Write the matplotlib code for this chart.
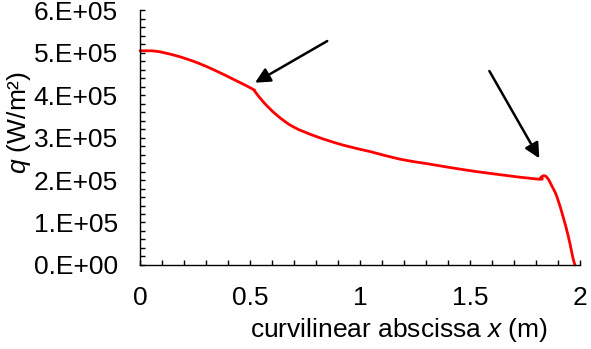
import matplotlib
matplotlib.use("Agg")
import matplotlib.pyplot as plt
import numpy as np
from matplotlib.path import Path
from matplotlib.patches import PathPatch
from matplotlib.ticker import MultipleLocator

plt.rcParams["font.family"] = ["Liberation Sans", "DejaVu Sans"]
plt.rcParams["mathtext.fontset"] = "custom"
plt.rcParams["mathtext.rm"] = "Liberation Sans"
plt.rcParams["mathtext.it"] = "Liberation Sans:italic"

# heat flux along the wall
x_m = [0.0, 0.073, 0.164, 0.255, 0.345, 0.436, 0.512, 0.523, 0.56, 0.621,
       0.697, 0.803, 0.924, 1.045, 1.182, 1.31, 1.462, 1.614, 1.81, 1.822,
       1.834, 1.846, 1.858, 1.87, 1.894, 1.924, 1.947, 1.96, 1.97, 1.977]
q_wm2 = [5.04e5, 5.03e5, 4.925e5, 4.77e5, 4.57e5, 4.34e5, 4.14e5, 4.08e5,
         3.84e5, 3.53e5, 3.25e5, 3.02e5, 2.82e5, 2.67e5, 2.49e5, 2.38e5,
         2.25e5, 2.14e5, 2.02e5, 2.06e5, 2.1e5, 2.08e5, 2.0e5, 1.88e5,
         1.62e5, 1.12e5, 0.67e5, 0.36e5, 0.12e5, 0.0]

x_ticks = [0, 0.5, 1, 1.5, 2]
x_labels = ["0", "0.5", "1", "1.5", "2"]
y_ticks = [0, 1e5, 2e5, 3e5, 4e5, 5e5, 6e5]
y_labels = ["0.E+00", "1.E+05", "2.E+05", "3.E+05", "4.E+05", "5.E+05", "6.E+05"]

# arrows: (tail, tip) in data units
arrows = [((0.851, 5.27e5), (0.523, 4.29e5)),
          ((1.588, 4.565e5), (1.815, 2.51e5))]


def smooth_path(xs, ys):
    # Excel style smoothed line: bezier segments through every point
    p = np.column_stack([xs, ys])
    verts = [p[0]]
    codes = [Path.MOVETO]
    n = len(p)
    for i in range(n - 1):
        p0 = p[i - 1] if i > 0 else p[i]
        p3 = p[i + 2] if i + 2 < n else p[i + 1]
        c1 = p[i] + (p[i + 1] - p0) / 6
        c2 = p[i + 1] - (p3 - p[i]) / 6
        verts += [c1, c2, p[i + 1]]
        codes += [Path.CURVE4] * 3
    return Path(verts, codes)


fig = plt.figure(figsize=(5.91, 3.49), dpi=100)
ax = fig.add_axes([0.2369, 0.2407, 0.7445, 0.7306])

ax.add_patch(PathPatch(smooth_path(x_m, q_wm2), facecolor="none",
                       edgecolor="#ff0000", lw=2, clip_on=False, capstyle="round"))

for tail, tip in arrows:
    ax.annotate("", xy=tip, xytext=tail,
                arrowprops=dict(arrowstyle="-|>,head_length=0.9,head_width=0.45",
                                color="black", lw=1.8, shrinkA=0, shrinkB=0))

ax.set_xlim(0, 2)
ax.set_ylim(0, 6e5)
ax.set_xticks(x_ticks)
ax.set_xticklabels(x_labels)
ax.set_yticks(y_ticks)
ax.set_yticklabels(y_labels)
ax.xaxis.set_minor_locator(MultipleLocator(0.1))
ax.yaxis.set_minor_locator(MultipleLocator(0.2e5))
ax.tick_params(which="both", direction="in", length=3.6, width=1, labelsize=19, pad=16)
ax.tick_params(axis="x", pad=15)

for s in ["top", "right"]:
    ax.spines[s].set_visible(False)
for s in ["left", "bottom"]:
    ax.spines[s].set_linewidth(1)

ax.set_xlabel("curvilinear abscissa $x$ (m)", fontsize=19)
ax.xaxis.set_label_coords(0.589, -0.2)
ax.set_ylabel("$q$ (W/m²)", fontsize=19)
ax.yaxis.set_label_coords(-0.243, 0.56)

fig.savefig("out.png", dpi=100)
